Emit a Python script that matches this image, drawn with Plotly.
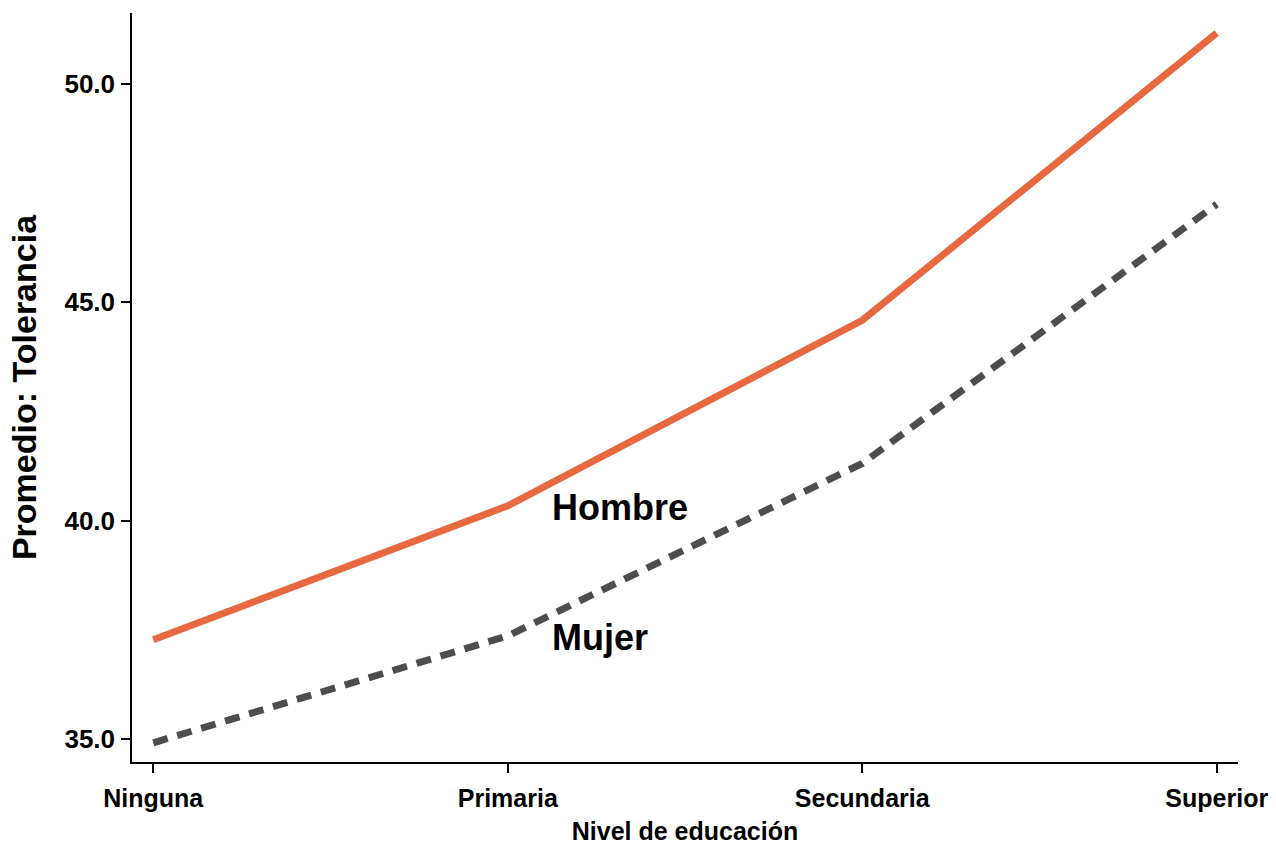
import plotly.graph_objects as go

categorias = ["Ninguna", "Primaria", "Secundaria", "Superior"]
hombre = [37.27, 40.34, 44.59, 51.17]
mujer = [34.91, 37.36, 41.31, 47.25]
y_ticks = [35.0, 40.0, 45.0, 50.0]

FONT = "Liberation Sans, Arial, sans-serif"
x_idx = list(range(len(categorias)))

fig = go.Figure()
fig.add_trace(go.Scatter(
    x=x_idx, y=hombre, mode="lines", name="Hombre",
    line=dict(color="#E8693F", width=7),
))
fig.add_trace(go.Scatter(
    x=x_idx, y=mujer, mode="lines", name="Mujer",
    line=dict(color="#4D4D4D", width=7, dash="15px,10px"),
))

fig.add_annotation(x=1.127, y=40.30, text="Hombre", showarrow=False,
                   xanchor="left", yanchor="middle", xshift=-3,
                   font=dict(family=FONT, size=36, color="black", weight="bold"))
fig.add_annotation(x=1.127, y=37.32, text="Mujer", showarrow=False,
                   xanchor="left", yanchor="middle", xshift=-3,
                   font=dict(family=FONT, size=36, color="black", weight="bold"))

fig.update_layout(
    width=1276, height=848,
    margin=dict(l=132, r=38, t=13, b=86),
    paper_bgcolor="white", plot_bgcolor="white",
    showlegend=False,
    font=dict(family=FONT, color="black"),
)
fig.update_xaxes(
    range=[-0.06, 3.06], automargin=False,
    tickmode="array", tickvals=x_idx, ticktext=categorias,
    showgrid=False, zeroline=False,
    showline=True, linecolor="black", linewidth=1.5,
    ticks="outside", ticklen=9, tickwidth=1.5, tickcolor="black",
    ticklabelstandoff=4,
    tickfont=dict(family=FONT, size=25, color="black", weight="bold"),
    title=dict(text="Nivel de educación", standoff=12,
               font=dict(family=FONT, size=25, color="black", weight="bold")),
)
fig.update_yaxes(
    range=[34.47, 51.63], automargin=False,
    tickmode="array", tickvals=y_ticks, tickformat=".1f",
    showgrid=False, zeroline=False,
    showline=True, linecolor="black", linewidth=1.5,
    ticks="outside", ticklen=9, tickwidth=1.5, tickcolor="black",
    ticklabelstandoff=1,
    tickfont=dict(family=FONT, size=26, color="black", weight="bold"),
    title=dict(text="Promedio: Tolerancia", standoff=18,
               font=dict(family=FONT, size=34, color="black", weight="bold")),
)

fig.write_html("out.html", config={"displayModeBar": False},
               post_script="document.body.style.margin='0';document.body.style.overflow='hidden';")
